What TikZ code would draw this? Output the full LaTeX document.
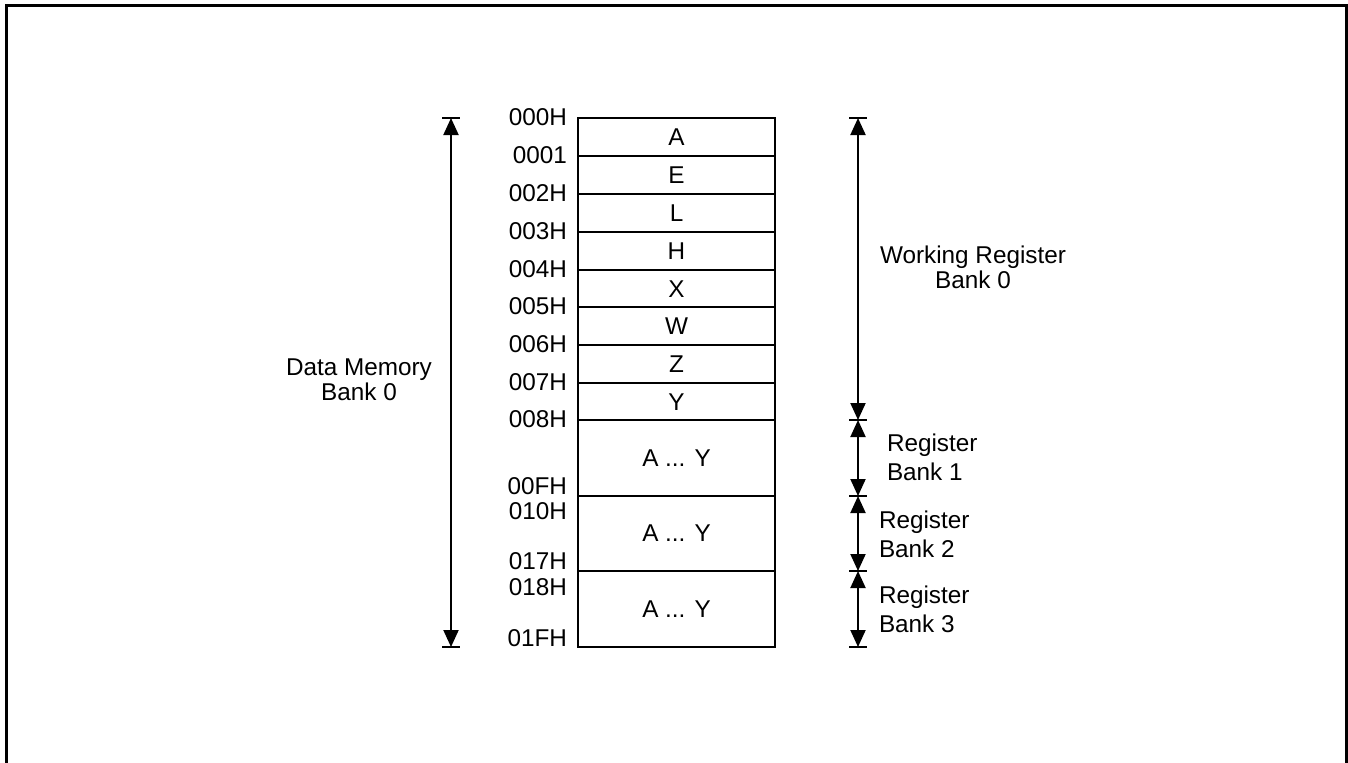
\documentclass[tikz,border=0pt]{standalone}
\usepackage{fontspec}
\setmainfont{Liberation Sans}
\usetikzlibrary{arrows.meta}
\begin{document}
\begin{tikzpicture}[x=0.5pt,y=-0.5pt,line width=1pt,
  font=\fontsize{12.15}{12.4}\selectfont,
  tip/.style={Triangle[width=7.5pt,length=8.5pt]},
  dimline/.style={{Triangle[width=7.5pt,length=8.5pt]}-{Triangle[width=7.5pt,length=8.5pt]}},
  addr/.style={inner sep=0pt,anchor=east},
  cell/.style={inner sep=0pt},
  lbl/.style={inner sep=0pt,align=center},
  rlbl/.style={inner sep=0pt,align=left,anchor=west,font=\fontsize{12.15}{14.3}\selectfont}]
\clip (0,0) rectangle (1348,762);
% outer frame (bottom is outside the picture)
\draw[line width=1.5pt] (6.5,5) rectangle (1346.5,900);
% memory box
\draw (578,118) rectangle (775,647);
\foreach \y in {156,194,232,270,307,345,383,420,496,571}
  \draw (578,\y) -- (775,\y);
% cell texts
\node[cell] (cA) at (676.5,137) {A};
\node[cell] (cE) at (676.5,175) {E};
\node[cell] (cL) at (676.5,213) {L};
\node[cell] (cH) at (676.5,251) {H};
\node[cell] (cX) at (676.5,289) {X};
\node[cell] (cW) at (676.5,326) {W};
\node[cell] (cZ) at (676.5,364) {Z};
\node[cell] (cY) at (676.5,402) {Y};
\node[cell] (b1) at (676.5,458) {A ... Y};
\node[cell] (b2) at (676.5,533) {A ... Y};
\node[cell] (b3) at (676.5,609) {A ... Y};
% addresses
\node[addr] (a0) at (568,117) {000H};
\node[addr] (a1) at (568,155) {0001};
\node[addr] (a2) at (568,193) {002H};
\node[addr] (a3) at (568,231) {003H};
\node[addr] (a4) at (568,269) {004H};
\node[addr] (a5) at (568,306) {005H};
\node[addr] (a6) at (568,344) {006H};
\node[addr] (a7) at (568,382) {007H};
\node[addr] (a8) at (568,419) {008H};
\node[addr,anchor=base east] (aF) at (568,494) {00FH};
\node[addr,anchor=base east] (a10) at (568,519) {010H};
\node[addr,anchor=base east] (a17) at (568,569) {017H};
\node[addr,anchor=base east] (a18) at (568,595) {018H};
\node[addr,anchor=base east] (a1F) at (568,646) {01FH};
% left dimension
\coordinate (L0) at (451,118);
\coordinate (L1) at (451,647);
\draw[dimline] (L0) -- (L1);
\node[lbl] (dm) at (359,380) {Data Memory\\Bank 0};
% right dimensions
\coordinate (R0) at (858,118);
\coordinate (R1) at (858,420);
\coordinate (R2) at (858,496);
\coordinate (R3) at (858,571);
\coordinate (R4) at (858,647);
\draw[dimline] (R0) -- (R1);
\draw[dimline] (R1) -- (R2);
\draw[dimline] (R2) -- (R3);
\draw[dimline] (R3) -- (R4);
\foreach \c in {L0,L1,R0,R1,R2,R3,R4}
  \draw ([xshift=-4.5pt]\c) -- ([xshift=4.5pt]\c);
\node[lbl] (wr) at (973,267.5) {Working Register\\Bank 0};
\node[rlbl] (rb1) at (886,457.5) {Register\\Bank 1};
\node[rlbl] (rb2) at (878,534) {Register\\Bank 2};
\node[rlbl] (rb3) at (878,609) {Register\\Bank 3};
\end{tikzpicture}
\end{document}
